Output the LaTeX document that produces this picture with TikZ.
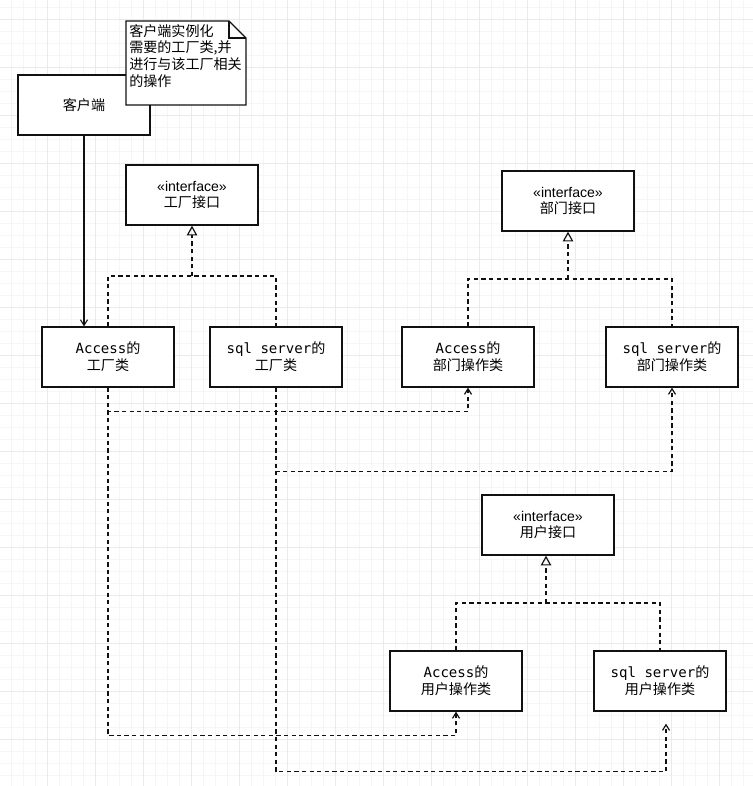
\documentclass[tikz,border=0pt]{standalone}
\usepackage{fontspec}
\setmainfont{Noto Sans CJK SC}
\setmonofont{DejaVu Sans Mono}
\newfontfamily\uifont{Liberation Sans}
\usetikzlibrary{arrows.meta}
\definecolor{ink}{HTML}{111111}
\definecolor{gridmajor}{HTML}{EAEAEA}
\definecolor{gridminor}{HTML}{F6F6F6}

\begin{document}
\begin{tikzpicture}[x=0.025cm,y=-0.025cm,>={Straight Barb[length=4pt,width=5pt]},
  classbox/.style={draw=ink,line width=0.9pt,fill=white,minimum width=3.3cm,minimum height=1.5cm,
    align=center,inner sep=0pt,font=\fontsize{10}{12}\selectfont},
  dep/.style={ink,line width=0.85pt,dash pattern=on 3pt off 2.4pt},
  realize/.style={dep,-{Triangle[open,length=7pt,width=7.5pt]}}]
  \useasboundingbox (0,0) rectangle (753,786);
  % background grid
  \foreach \i in {0,...,62} \draw[gridminor,line width=0.5pt] (11.7+12*\i,0) -- (11.7+12*\i,786);
  \foreach \j in {0,...,65} \draw[gridminor,line width=0.5pt] (0,7+12*\j) -- (753,7+12*\j);
  \foreach \i in {0,...,14} \draw[gridmajor,line width=0.6pt] (47.7+48*\i,0) -- (47.7+48*\i,786);
  \foreach \j in {0,...,15} \draw[gridmajor,line width=0.6pt] (0,19+48*\j) -- (753,19+48*\j);

  % client and note
  \node[classbox] (client) at (84,105) {客户端};
  \filldraw[fill=white,draw=ink,line width=0.9pt] (126,21) -- (229,21) -- (246,38) -- (246,105) -- (126,105) -- cycle;
  \draw[ink,line width=0.9pt] (229,21) -- (229,38) -- (246,38);
  \node[anchor=north west,align=left,inner sep=0pt,font=\fontsize{10}{11.9}\selectfont] (note) at (129,24)
    {客户端实例化\\需要的工厂类,并\\进行与该工厂相关\\的操作};

  % interfaces
  \node[classbox] (facif) at (192,195) {{\uifont «interface»}\\工厂接口};
  \node[classbox] (depif) at (568,201) {{\uifont «interface»}\\部门接口};
  \node[classbox] (usrif) at (548,525) {{\uifont «interface»}\\用户接口};

  % classes
  \node[classbox] (accfac) at (108,357) {{\ttfamily Access}的\\工厂类};
  \node[classbox] (sqlfac) at (276,357) {{\ttfamily sql server}的\\工厂类};
  \node[classbox] (accdep) at (468,357) {{\ttfamily Access}的\\部门操作类};
  \node[classbox] (sqldep) at (672,357) {{\ttfamily sql server}的\\部门操作类};
  \node[classbox] (accusr) at (456,681) {{\ttfamily Access}的\\用户操作类};
  \node[classbox] (sqlusr) at (660,681) {{\ttfamily sql server}的\\用户操作类};

  \draw[ink,line width=0.75pt,->] (client.south) -- (client.south |- accfac.north);

  % realizations
  \coordinate (facjoin) at (192,276);
  \coordinate (depjoin) at (568,279);
  \coordinate (usrjoin) at (546,603);
  \draw[dep] (accfac.north) |- (facjoin) -| (sqlfac.north);
  \draw[realize] (facjoin) -- (facif.south);
  \draw[dep] (accdep.north) |- (depjoin) -| (sqldep.north);
  \draw[realize] (depjoin) -- (depif.south);
  \draw[dep] (accusr.north) |- (usrjoin) -| (sqlusr.north);
  \draw[realize] (usrjoin) -- (usrjoin |- usrif.south);

  % dependencies
  \path (sqlusr.south) ++(6,12) coordinate (sqlusrend);
  \draw[dep,->] (accfac.south) -- ++(0,24) -| (accdep.south);
  \draw[dep,->] (accfac.south) -- ++(0,348) -| (accusr.south);
  \draw[dep,->] (sqlfac.south) -- ++(0,84) -| (sqldep.south);
  \draw[dep,->] (sqlfac.south) -- ++(0,384) -| (sqlusrend);
\end{tikzpicture}
\end{document}
